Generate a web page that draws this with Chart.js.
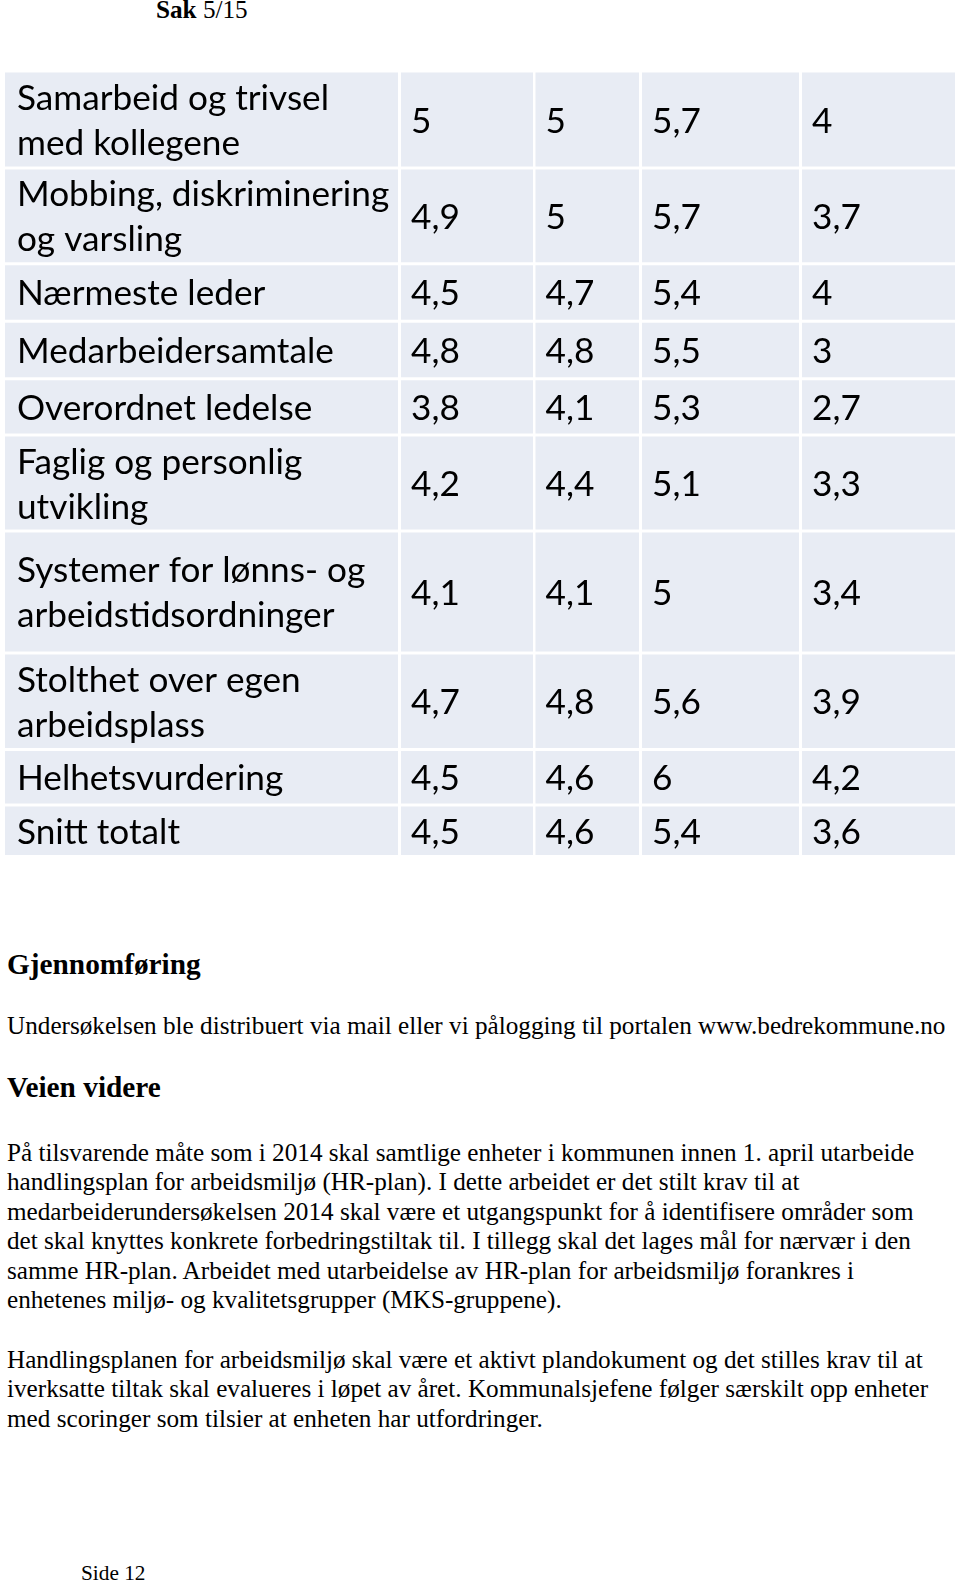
<!DOCTYPE html>
<html>
<head>
<meta charset="utf-8">
<script src="https://cdn.jsdelivr.net/npm/chart.js@4"></script>
<style>
  body { margin: 0; background: #fff; width: 960px; height: 1582px; position: relative; overflow: hidden;
         font-family: "Liberation Serif", "Times New Roman", serif; color: #000; }
  #tbl { position: absolute; left: 0; top: 0; }
  .t { position: absolute; left: 7px; white-space: nowrap; }
  .body { font-size: 25.2px; line-height: 29.45px; }
  .head { font-size: 29.3px; line-height: 34px; font-weight: bold; }
</style>
</head>
<body>
<div class="t body" style="left:156px; top:-5px;"><b>Sak</b> 5/15</div>

<canvas id="tbl" width="960" height="880"></canvas>

<div class="t head" style="top:947px;">Gjennomføring</div>
<div class="t body" style="top:1011px;">Undersøkelsen ble distribuert via mail eller vi pålogging til portalen www.bedrekommune.no</div>
<div class="t head" style="top:1070px;">Veien videre</div>
<div class="t body" style="top:1138px;">På tilsvarende måte som i 2014 skal samtlige enheter i kommunen innen 1. april utarbeide<br>handlingsplan for arbeidsmiljø (HR-plan). I dette arbeidet er det stilt krav til at<br>medarbeiderundersøkelsen 2014 skal være et utgangspunkt for å identifisere områder som<br>det skal knyttes konkrete forbedringstiltak til. I tillegg skal det lages mål for nærvær i den<br>samme HR-plan. Arbeidet med utarbeidelse av HR-plan for arbeidsmiljø forankres i<br>enhetenes miljø- og kvalitetsgrupper (MKS-gruppene).</div>
<div class="t body" style="top:1345px;">Handlingsplanen for arbeidsmiljø skal være et aktivt plandokument og det stilles krav til at<br>iverksatte tiltak skal evalueres i løpet av året. Kommunalsjefene følger særskilt opp enheter<br>med scoringer som tilsier at enheten har utfordringer.</div>
<div class="t" style="left:81px; top:1561px; font-size:21.3px; line-height:24.5px;">Side 12</div>

<script>
// table rows (line breaks as in the original)
const topics = [
  "Samarbeid og trivsel\nmed kollegene",
  "Mobbing, diskriminering\nog varsling",
  "Nærmeste leder",
  "Medarbeidersamtale",
  "Overordnet ledelse",
  "Faglig og personlig\nutvikling",
  "Systemer for lønns- og\narbeidstidsordninger",
  "Stolthet over egen\narbeidsplass",
  "Helhetsvurdering",
  "Snitt totalt"
];
const score1 = [5, 4.9, 4.5, 4.8, 3.8, 4.2, 4.1, 4.7, 4.5, 4.5];
const score2 = [5, 5, 4.7, 4.8, 4.1, 4.4, 4.1, 4.8, 4.6, 4.6];
const score3 = [5.7, 5.7, 5.4, 5.5, 5.3, 5.1, 5, 5.6, 6, 5.4];
const score4 = [4, 3.7, 4, 3, 2.7, 3.3, 3.4, 3.9, 4.2, 3.6];

// layout of the table (page pixels)
const tableTop = 72.6;
const rowGap = 3;
const rowHeights = [93.8, 92.8, 54.5, 54.5, 53.4, 92.8, 119, 93.7, 52.4, 48.4];
const colEdges = [[5, 398], [401, 533], [535.5, 639], [642, 799], [802, 955]];
const cellColor = "#E8ECF4";
const lineGap = 45;

const fmt = v => String(v).replace(".", ",");

let yCursor = tableTop;
const rowCenters = rowHeights.map(h => {
  const c = yCursor + h / 2;
  yCursor += h + rowGap;
  return c;
});

const datasets = topics.map((t, r) => ({
  label: t,
  stack: "cells",
  barThickness: rowHeights[r],
  backgroundColor: cellColor,
  borderWidth: 0,
  inflateAmount: 0,
  data: colEdges.map(e => ({ x: e, y: rowCenters[r] })),
  cellText: [t, fmt(score1[r]), fmt(score2[r]), fmt(score3[r]), fmt(score4[r])]
}));

// draws the text in every cell
const cellLabels = {
  id: "cellLabels",
  afterDatasetsDraw(chart) {
    const ctx = chart.ctx;
    ctx.save();
    ctx.font = "34px Lato";
    const sx = 312 / ctx.measureText("Samarbeid og trivsel").width;
    ctx.fillStyle = "#000";
    ctx.textBaseline = "alphabetic";
    chart.data.datasets.forEach((ds, di) => {
      const meta = chart.getDatasetMeta(di);
      meta.data.forEach((bar, i) => {
        const lines = ds.cellText[i].split("\n");
        const left = Math.min(bar.base, bar.x) + (i === 0 ? 12 : 10);
        lines.forEach((ln, k) => {
          const y = bar.y + 13 + (k - (lines.length - 1) / 2) * lineGap;
          ctx.save();
          ctx.translate(left, y);
          ctx.scale(sx, 1);
          ctx.fillText(ln, 0, 0);
          ctx.restore();
        });
      });
    });
    ctx.restore();
  }
};

new Chart(document.getElementById("tbl"), {
  type: "bar",
  data: { datasets: datasets },
  options: {
    indexAxis: "y",
    responsive: false,
    devicePixelRatio: 1,
    animation: false,
    layout: { padding: 0 },
    plugins: { legend: { display: false }, tooltip: { enabled: false } },
    scales: {
      x: { type: "linear", min: 0, max: 960, display: false, stacked: false },
      y: { type: "linear", min: 0, max: 880, reverse: true, offset: false, display: false }
    }
  },
  plugins: [cellLabels]
});
</script>
</body>
</html>
